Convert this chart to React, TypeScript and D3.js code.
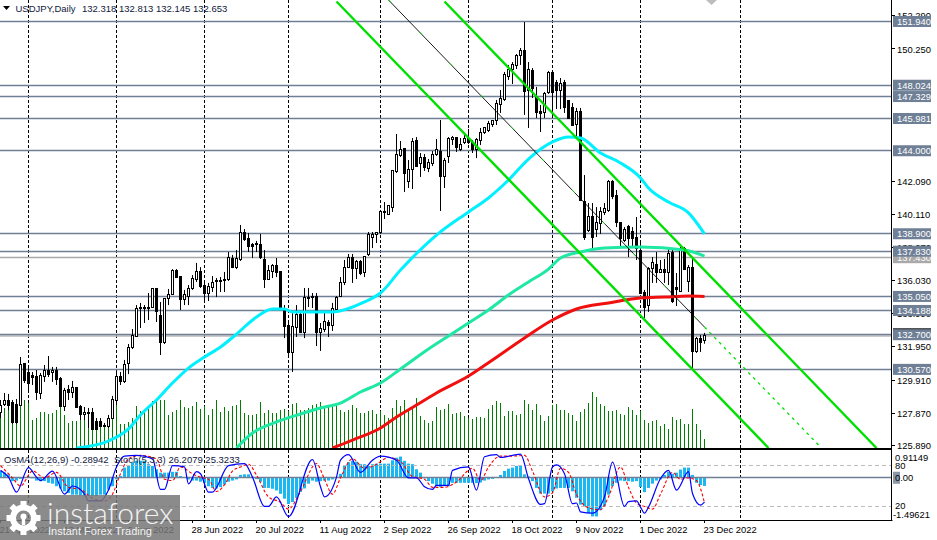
import React, { useEffect, useRef } from "react";
import * as d3 from "d3";

const width = 937;
const height = 540;

// daily USDJPY bars
const opens = [
  127.89,128.44,128.63,128.51,128.44,128.38,130.90,130.35,130.22,130.16,
  129.06,130.16,130.53,130.35,130.47,130.04,128.26,129.36,129.12,129.43,
  128.26,127.77,127.95,127.89,127.34,127.34,127.15,127.03,127.58,128.63,
  130.16,129.80,130.96,131.94,132.56,134.28,134.34,134.37,134.40,135.51,
  133.85,132.19,134.95,135.14,136.67,136.30,134.89,135.07,135.51,136.12,
  136.61,135.75,135.26,135.57,135.94,136.00,136.12,136.06,137.41,136.85,
  137.29,138.95,138.64,138.21,138.21,138.27,137.35,136.12,136.61,136.98,
  136.61,134.22,133.29,131.58,133.17,133.91,132.86,134.98,135.07,135.07,
  132.86,132.99,133.48,133.29,134.22,135.07,135.88,136.85,137.47,136.79,
  137.17,136.49,137.60,138.70,138.83,138.95,140.21,140.11,140.54,142.70,
  143.68,144.11,142.08,142.82,144.60,143.19,143.56,142.88,143.19,143.74,
  143.98,142.39,143.62,144.72,144.84,144.05,144.48,144.78,144.48,144.05,
  144.60,145.15,145.27,145.64,145.83,146.87,147.12,148.53,149.02,149.21,
  149.82,150.13,147.73,148.90,147.36,146.38,146.32,147.55,148.78,148.22,
  147.73,148.22,147.06,146.63,145.64,146.44,140.91,139.13,139.93,139.19,
  139.56,140.18,140.30,142.14,141.28,139.62,138.46,139.37,139.01,138.70,
  137.90,135.32,134.52,136.79,137.04,136.55,136.73,136.55,137.72,135.63,
  135.38,138.02,135.94,136.85,131.64,132.49,132.318,
];
const highs = [
  128.69,129.12,129.06,128.69,128.75,131.33,130.96,130.65,130.41,130.53,
  130.35,130.84,131.39,130.72,130.72,130.10,129.43,129.61,129.86,129.49,
  128.38,128.26,128.20,128.20,127.58,127.58,127.28,127.77,128.94,130.41,
  130.41,131.15,132.13,133.05,134.52,134.65,134.52,135.26,135.57,135.57,
  134.71,134.95,135.51,136.73,136.73,136.30,135.45,135.75,136.36,137.11,
  136.85,135.94,135.88,136.30,136.18,136.24,136.55,137.78,137.60,137.90,
  139.44,139.19,138.95,138.33,138.46,138.89,137.90,136.98,137.04,137.41,
  136.61,134.52,133.42,134.03,134.52,134.10,135.57,135.57,135.26,135.26,
  133.42,134.03,133.60,134.65,135.07,136.24,137.29,137.66,137.66,137.29,
  137.29,137.53,139.01,139.01,139.01,140.36,140.85,140.67,142.82,145.03,
  144.60,144.11,143.43,144.78,144.84,143.86,143.80,143.49,143.98,144.72,
  145.89,143.56,144.84,144.91,144.84,144.78,144.97,145.34,144.66,144.78,
  145.40,145.46,145.83,145.89,147.12,147.73,148.84,149.27,149.45,149.94,
  150.31,151.91,149.45,149.08,147.92,146.81,147.61,148.90,148.90,148.35,
  148.47,148.35,147.06,146.93,146.63,146.63,142.51,140.79,140.79,140.54,
  140.54,140.79,142.20,142.20,141.59,139.62,139.31,139.44,139.31,139.93,
  138.39,135.45,136.85,137.47,137.78,137.29,137.35,138.02,138.02,136.49,
  138.09,138.09,136.98,137.35,132.56,132.68,132.813,
];
const lows = [
  127.58,128.32,128.07,127.21,127.21,128.32,129.73,129.12,129.61,128.69,
  128.75,129.80,130.10,129.80,129.61,128.26,128.01,128.69,128.81,128.20,
  127.46,127.46,126.97,126.85,126.85,127.03,127.03,126.97,127.52,128.38,
  129.61,129.73,130.28,131.82,132.56,133.11,133.42,133.60,134.34,133.48,
  131.45,132.13,134.52,135.14,136.18,134.22,134.52,134.52,135.45,135.94,
  135.57,134.71,134.77,135.32,135.01,135.32,135.32,136.00,136.79,136.73,
  137.23,138.46,137.78,137.41,137.78,137.35,135.57,136.06,136.18,136.24,
  134.22,132.49,131.45,130.41,132.56,132.80,132.49,134.40,134.34,132.00,
  131.70,132.86,132.56,132.93,134.16,135.01,135.75,136.79,135.88,136.12,
  136.36,136.24,137.53,138.02,138.33,138.89,139.81,140.05,140.24,142.63,
  143.62,141.47,141.71,141.65,143.00,142.39,142.76,142.69,143.06,143.68,
  140.30,141.71,143.25,144.35,143.92,143.98,144.41,144.41,143.86,143.55,
  144.35,145.03,145.15,145.46,145.58,146.32,147.06,148.35,148.10,149.02,
  149.27,146.20,145.40,147.24,146.01,145.15,146.01,147.49,146.01,146.56,
  146.56,146.32,145.95,145.52,144.91,140.91,138.52,139.01,137.90,138.70,
  138.89,140.05,140.24,141.03,139.31,138.09,138.39,137.47,138.09,137.29,
  135.26,133.73,134.10,135.88,135.88,136.49,135.88,135.75,134.65,134.46,
  135.32,136.67,135.32,130.65,131.58,131.64,132.145,
];
const closes = [
  128.38,128.63,128.38,127.28,127.28,130.84,129.86,129.73,130.10,129.12,
  130.22,130.53,130.28,130.47,129.92,128.26,129.30,129.12,129.43,128.20,
  127.77,127.89,127.89,126.85,126.85,127.09,127.09,127.58,128.69,130.16,
  129.80,130.84,131.94,132.62,134.28,134.34,134.40,134.40,135.51,134.10,
  132.19,134.95,135.14,136.67,136.24,134.89,135.20,135.51,136.18,136.61,
  135.69,135.26,135.69,135.88,136.00,135.94,136.00,137.47,136.85,137.41,
  138.95,138.52,138.09,138.09,138.33,137.47,136.12,136.67,136.98,136.55,
  134.34,133.23,131.58,133.23,133.91,132.86,135.01,135.01,135.01,132.86,
  133.05,133.54,133.29,134.28,135.01,135.88,136.85,137.47,136.79,137.17,
  136.43,137.53,138.83,138.83,138.95,140.24,140.24,140.61,142.76,143.74,
  144.05,142.63,142.82,144.54,143.06,143.56,142.94,143.25,143.74,144.05,
  142.39,143.37,144.78,144.84,144.17,144.41,144.78,144.48,144.05,144.66,
  145.15,145.40,145.70,145.83,146.93,147.18,148.71,149.02,149.27,149.88,
  150.13,147.61,148.96,147.85,146.32,146.26,147.49,148.78,147.55,147.73,
  148.16,146.63,146.01,145.58,146.44,140.97,138.70,139.93,138.70,139.62,
  140.24,140.48,142.14,141.16,139.62,138.64,139.19,138.64,138.64,138.02,
  135.26,134.34,136.79,137.11,136.55,136.73,136.55,137.66,134.71,135.45,
  138.02,136.73,136.85,131.64,132.49,132.25,132.653,
];
const volumes = [
  36,40,42,45,46,53,48,45,28,30,
  36,36,34,35,38,43,33,25,27,27,
  37,32,28,22,25,26,23,30,35,43,
  24,24,26,30,42,37,37,42,47,47,
  48,48,33,36,38,48,41,40,42,46,
  39,42,33,39,48,36,41,37,42,43,
  48,35,33,33,34,46,35,38,35,35,
  38,39,37,44,45,38,38,40,43,44,
  46,41,41,42,43,38,36,38,43,40,
  35,35,37,38,34,37,33,30,40,48,
  42,48,38,41,50,32,28,25,27,41,
  38,39,44,34,35,36,32,30,29,31,
  31,30,39,43,47,45,32,37,37,33,
  34,48,44,38,44,33,27,32,43,44,
  38,38,35,33,27,36,39,45,56,51,
  44,42,37,37,38,34,33,41,38,33,
  37,28,25,27,28,22,24,19,31,28,
  29,24,24,39,24,18,9,
];
const osma = [
  0.24,0.18,0.12,-0.12,-0.10,-0.04,0.02,0.04,-0.02,-0.10,
  -0.12,-0.12,-0.18,-0.21,-0.30,-0.38,-0.48,-0.54,-0.60,-0.60,
  -0.62,-0.65,-0.65,-0.65,-0.65,-0.60,-0.60,-0.42,-0.30,-0.06,
  0.06,0.36,0.42,0.54,0.60,0.60,0.60,0.48,0.42,0.30,
  0.18,0.18,0.18,0.21,0.21,0.06,0.02,-0.06,-0.10,-0.10,
  -0.14,-0.18,-0.30,-0.36,-0.38,-0.33,-0.24,-0.14,-0.10,-0.06,
  0.10,0.12,0.12,0.04,-0.05,-0.14,-0.36,-0.36,-0.39,-0.45,
  -0.57,-0.74,-0.93,-0.86,-0.71,-0.50,-0.38,-0.21,-0.10,-0.14,
  -0.12,-0.10,-0.10,-0.06,0.02,0.14,0.42,0.55,0.60,0.57,
  0.48,0.48,0.42,0.48,0.50,0.50,0.50,0.50,0.62,0.71,
  0.75,0.60,0.50,0.48,0.30,0.18,-0.02,-0.12,-0.21,-0.30,
  -0.33,-0.30,-0.30,-0.18,-0.18,-0.18,-0.18,-0.18,-0.18,-0.19,
  -0.17,-0.10,-0.06,-0.04,0,0.10,0.24,0.32,0.36,0.42,
  0.42,0.12,0.04,-0.12,-0.36,-0.56,-0.56,-0.56,-0.48,-0.38,
  -0.36,-0.36,-0.36,-0.48,-0.71,-0.95,-1.01,-1.25,-1.37,-1.37,
  -1.15,-1.01,-0.60,-0.30,-0.18,-0.10,-0.12,-0.12,-0.14,-0.12,
  -0.33,-0.51,-0.36,-0.21,-0.10,-0.06,0.10,0.21,0.14,0.18,
  0.29,0.36,0.36,0.10,-0.18,-0.26,-0.28942,
];

// moving averages, bar index and price at the turning points
const cyanBars = [19,27,32,35,39,43,47,51,55,59,64,68,71,73,79,83,91,95,100,109,117,122,127,132,138,142,145,150,155,160,162,167,172,176];
const cyanPrices = [125.74,126.17,126.91,127.77,128.69,129.73,130.65,131.33,131.94,132.74,133.79,134.28,134.28,134.10,134.10,134.10,134.71,135.26,136.67,138.82,140.24,141.10,142.20,143.49,144.54,144.84,144.78,143.86,143.25,142.33,141.71,140.85,140.18,138.89];
const springBars = [59,63,69,75,80,85,90,95,100,107,112,117,122,127,132,137,140,145,151,160,171,176];
const springPrices = [125.74,126.66,127.34,127.83,128.20,128.50,129.18,129.73,130.59,131.82,132.62,133.42,134.22,135.14,135.94,136.73,137.41,137.78,138.02,138.09,137.90,137.53];
const redBars = [83,88,95,99,104,109,117,123,131,138,144,152,160,166,172,176];
const redPrices = [125.74,126.23,126.97,127.64,128.38,129.12,130.16,131.15,132.50,133.60,134.28,134.65,134.95,135.01,135.07,135.05];

// stochastic, bar index and value at the turning points
const stochBars = [0,2,4,7,9,10,13,16,18,21,22,25,27,29,31,34,38,40,41,43,46,47,49,50,52,53,57,61,63,66,67,69,72,78,80,81,84,85,87,90,93,95,99,102,104,106,108,109,112,113,117,119,121,124,125,130,132,135,136,138,139,141,143,144,145,148,151,153,156,157,159,160,161,162,165,167,169,172,173,175,176];
const stochMain = [73,63,41,77,63,58,72,38,50,38,28,28,44,78,94,95,90,45,45,80,78,53,71,68,41,41,80,83,63,20,20,34,5,89,49,34,63,88,96,70,88,94,88,62,62,49,45,51,51,73,78,44,93,96,92,97,61,23,24,78,81,68,24,25,12,10,34,85,20,27,28,19,10,19,61,73,44,71,39,22,26.2079];
const signalBars = [0,3,5,8,11,14,17,20,23,26,28,30,32,35,39,41,43,45,48,50,52,54,56,58,60,62,64,67,70,72,75,79,81,83,85,88,91,94,97,100,103,106,108,111,114,118,120,122,125,128,131,133,136,138,140,142,144,147,150,152,155,157,159,161,163,165,168,170,172,174,176];
const stochSignal = [80,62,50,72,62,70,48,45,32,28,38,68,90,95,90,60,58,78,68,63,60,42,52,72,78,82,66,34,26,16,42,83,60,38,62,90,76,82,92,86,64,60,48,48,56,76,58,78,94,94,95,72,34,40,76,70,38,18,15,34,78,48,25,20,16,38,70,60,62,58,25.3233];

// horizontal levels and the price scale
const levels = [151.94,148.024,147.329,145.981,144.0,138.9,137.83,135.05,134.188,132.7,130.57];
const levelLabels = ["151.940","148.024","147.329","145.981","144.000","138.900","137.830","135.050","134.188","132.700","130.570"];
const priceTicks = [152.29,150.25,142.09,140.11,138.07,136.03,133.99,131.95,129.91,127.87,125.89];
const bidPrice = 132.653;
const greyLevel = 137.43;

// trend channel: first and last bar with their prices
const channelLow = { bars: [84,192], prices: [153.17,125.74] };
const channelHigh = { bars: [111,219], prices: [153.17,125.74] };
const channelMid = { bars: [97,176,205], prices: [153.26,133.17,125.80] };

// month separators and date labels
const separatorBars = [7,29,51,72,95,117,138,160,185];
const dateBars = [0,16,32,48,64,80,96,112,128,144,160,176];
const dateLabels = ["21 Apr 2022","13 May 2022","6 Jun 2022","28 Jun 2022","20 Jul 2022","11 Aug 2022","2 Sep 2022","26 Sep 2022","18 Oct 2022","9 Nov 2022","1 Dec 2022","23 Dec 2022"];

const uiFont = "'Liberation Sans', Arial, sans-serif";
const levelColor = "#6f7f96";

export default function App() {
  const ref = useRef<SVGSVGElement | null>(null);

  useEffect(() => {
    const node = ref.current;
    if (!node) return;
    const svg = d3.select(node);
    svg.selectAll("*").remove();

    const axisX = 892;
    const paneBottom = 448;
    const subTop = 452;
    const subBottom = 520;

    const x = d3.scaleLinear().domain([0, 176]).range([0.5, 704.5]);
    const y = d3.scaleLinear().domain([153.26, 125.74]).range([0, paneBottom]);
    const volY = d3.scaleLinear().domain([0, 60]).range([paneBottom, paneBottom - 60]);
    const osmaY = d3.scaleLinear().domain([-1.49621, 0.91149]).range([subBottom, subTop]);
    const stochY = d3.scaleLinear().domain([0, 100]).range([subBottom, subTop]);
    const snap = (v: number) => Math.round(v - 0.5) + 0.5;

    svg.append("rect").attr("width", width).attr("height", height).attr("fill", "#fff");

    const defs = svg.append("defs");
    defs.append("clipPath").attr("id", "main-clip").append("rect").attr("width", axisX).attr("height", paneBottom);
    defs.append("clipPath").attr("id", "sub-clip").append("rect").attr("y", subTop - 1).attr("width", axisX).attr("height", subBottom - subTop + 1);

    // month separators
    svg.append("g").selectAll("line").data(separatorBars).join("line")
      .attr("x1", (d) => x(d)).attr("x2", (d) => x(d))
      .attr("y1", 0).attr("y2", subBottom)
      .attr("stroke", "#000").attr("stroke-dasharray", "3,2");

    const main = svg.append("g").attr("clip-path", "url(#main-clip)");

    // price levels
    main.append("line").attr("x1", 0).attr("x2", axisX)
      .attr("y1", snap(y(greyLevel))).attr("y2", snap(y(greyLevel)))
      .attr("stroke", "#a9a9a9").attr("stroke-width", 1.3);
    main.append("line").attr("x1", 0).attr("x2", axisX)
      .attr("y1", snap(y(bidPrice)) + 0.5).attr("y2", snap(y(bidPrice)) + 0.5)
      .attr("stroke", "#b8b8b8").attr("stroke-width", 1.3);
    main.append("g").selectAll("line").data(levels).join("line")
      .attr("x1", 0).attr("x2", axisX)
      .attr("y1", (d) => snap(y(d))).attr("y2", (d) => snap(y(d)))
      .attr("stroke", levelColor).attr("stroke-width", 1.3);

    // volume
    main.append("g").selectAll("line").data(volumes).join("line")
      .attr("x1", (_, i) => x(i)).attr("x2", (_, i) => x(i))
      .attr("y1", paneBottom).attr("y2", (d) => volY(d))
      .attr("stroke", "#008000");

    // candles
    const candles = main.append("g");
    closes.forEach((c, i) => {
      const o = opens[i];
      candles.append("line")
        .attr("x1", x(i)).attr("x2", x(i))
        .attr("y1", y(highs[i])).attr("y2", y(lows[i]))
        .attr("stroke", "#000");
      const top = snap(y(Math.max(o, c)));
      const bot = snap(y(Math.min(o, c)));
      candles.append("rect")
        .attr("x", x(i) - 1).attr("width", 2)
        .attr("y", top).attr("height", Math.max(bot - top, 1))
        .attr("fill", c >= o ? "#fff" : "#000")
        .attr("stroke", "#000");
    });

    // moving averages
    const priceLine = d3.line<[number, number]>().x((d) => x(d[0])).y((d) => y(d[1]));
    const maLine = d3.line<[number, number]>().x((d) => x(d[0])).y((d) => y(d[1])).curve(d3.curveMonotoneX);
    const zipped = (bars: number[], vals: number[]) => bars.map((b, i) => [b, vals[i]] as [number, number]);
    const maLayer = main.append("g").attr("fill", "none").attr("stroke-width", 3);
    maLayer.append("path").attr("d", maLine(zipped(cyanBars, cyanPrices))).attr("stroke", "#00f0ff");
    maLayer.append("path").attr("d", maLine(zipped(springBars, springPrices))).attr("stroke", "#1fe8a4");
    maLayer.append("path").attr("d", maLine(zipped(redBars, redPrices))).attr("stroke", "#f01010");

    // channel
    const channel = main.append("g").attr("fill", "none");
    [channelLow, channelHigh].forEach((c) => {
      channel.append("path").attr("d", priceLine(zipped(c.bars, c.prices)))
        .attr("stroke", "#00e000").attr("stroke-width", 2.4);
    });
    const midPts = zipped(channelMid.bars, channelMid.prices);
    channel.append("path").attr("d", priceLine(midPts.slice(0, 2))).attr("stroke", "#000").attr("stroke-width", 0.9);
    channel.append("path").attr("d", priceLine(midPts.slice(0, 2))).attr("stroke", "#00e000").attr("stroke-width", 0.9).attr("stroke-dasharray", "4,40");
    channel.append("path").attr("d", priceLine(midPts.slice(1))).attr("stroke", "#00e000").attr("stroke-width", 1.3).attr("stroke-dasharray", "3,4");

    // sub window
    const sub = svg.append("g").attr("clip-path", "url(#sub-clip)");
    sub.append("g").selectAll("rect").data(osma).join("rect")
      .attr("x", (_, i) => x(i) - 1.5).attr("width", 3)
      .attr("y", (d) => Math.min(osmaY(d), osmaY(0)))
      .attr("height", (d) => Math.abs(osmaY(d) - osmaY(0)))
      .attr("fill", "#19b8f2");
    sub.append("g").selectAll("line").data([80, 20]).join("line")
      .attr("x1", 0).attr("x2", axisX)
      .attr("y1", (d) => snap(stochY(d))).attr("y2", (d) => snap(stochY(d)))
      .attr("stroke", "#bdbdbd").attr("stroke-dasharray", "4,3");
    sub.append("line").attr("x1", 0).attr("x2", axisX)
      .attr("y1", snap(osmaY(0))).attr("y2", snap(osmaY(0)))
      .attr("stroke", levelColor).attr("stroke-width", 1.3);
    const stochLine = d3.line<[number, number]>().x((d) => x(d[0])).y((d) => stochY(d[1])).curve(d3.curveMonotoneX);
    sub.append("path").attr("d", stochLine(zipped(signalBars, stochSignal)))
      .attr("fill", "none").attr("stroke", "#ff0000").attr("stroke-width", 1.1).attr("stroke-dasharray", "3,2");
    sub.append("path").attr("d", stochLine(zipped(stochBars, stochMain)))
      .attr("fill", "none").attr("stroke", "#0000ff").attr("stroke-width", 1.2);

    // pane frame
    svg.append("rect").attr("x", 0).attr("y", paneBottom).attr("width", axisX).attr("height", 2).attr("fill", "#000");
    svg.append("line").attr("x1", 0).attr("x2", axisX + 0.5).attr("y1", subBottom + 0.5).attr("y2", subBottom + 0.5).attr("stroke", "#000");
    svg.append("line").attr("x1", axisX - 0.5).attr("x2", axisX - 0.5).attr("y1", 0).attr("y2", subBottom + 1).attr("stroke", "#000");

    // price axis
    const axisText = (sel: d3.Selection<any, any, any, any>) =>
      sel.attr("font-family", uiFont).attr("font-size", 9.4).attr("dominant-baseline", "central");
    const ticks = svg.append("g");
    ticks.selectAll("line").data(priceTicks).join("line")
      .attr("x1", axisX).attr("x2", axisX + 3)
      .attr("y1", (d) => snap(y(d))).attr("y2", (d) => snap(y(d)))
      .attr("stroke", "#000");
    ticks.selectAll("text").data(priceTicks).join("text")
      .attr("x", 897).attr("y", (d) => y(d)).attr("fill", "#000")
      .text((d) => d.toFixed(3)).call(axisText);

    // tags on the price axis, the grey and black ones lie under the rest
    const tag = (price: number, label: string, fill: string, color: string) => {
      const g = svg.append("g");
      g.append("rect").attr("x", 893).attr("y", y(price) - 5.5).attr("width", 38).attr("height", 11).attr("fill", fill);
      g.append("text").attr("x", 897).attr("y", y(price)).attr("fill", color).text(label).call(axisText);
    };
    tag(greyLevel, greyLevel.toFixed(3), "#a9a9a9", "#fff");
    tag(bidPrice + 0.1, bidPrice.toFixed(3), "#000", "#fff");
    levels.forEach((l, i) => tag(l, levelLabels[i], levelColor, "#fff"));

    // sub window scale
    const subScale = svg.append("g");
    subScale.append("rect").attr("x", 893).attr("y", osmaY(0) - 6).attr("width", 7).attr("height", 12).attr("fill", "#8a97a8");
    [
      { t: "0.91149", yy: 457, xx: 895 },
      { t: "80", yy: stochY(80), xx: 895 },
      { t: "0.00", yy: osmaY(0), xx: 895 },
      { t: "20", yy: stochY(20) - 0.5, xx: 895 },
      { t: "-1.49621", yy: 514, xx: 893 },
    ].forEach((d) => {
      subScale.append("text").attr("x", d.xx).attr("y", d.yy).attr("fill", "#000").text(d.t).call(axisText);
    });

    // date axis
    const dates = svg.append("g");
    dates.selectAll("line").data(dateBars).join("line")
      .attr("x1", (d) => x(d)).attr("x2", (d) => x(d))
      .attr("y1", subBottom).attr("y2", subBottom + 3)
      .attr("stroke", "#000");
    dates.selectAll("text").data(dateBars).join("text")
      .attr("x", (d) => x(d) - 1).attr("y", 529.5).attr("fill", "#000")
      .text((_, i) => dateLabels[i]).call(axisText);

    // captions
    const caption = svg.append("g").attr("font-family", uiFont).attr("font-size", 9.5)
      .attr("fill", "#10203c").attr("dominant-baseline", "central");
    caption.append("text").attr("x", 15.5).attr("y", 8).text("USDJPY,Daily");
    caption.append("text").attr("x", 82).attr("y", 8).text("132.318 132.813 132.145 132.653");
    caption.append("text").attr("x", 4).attr("y", 459).text("OsMA(12,26,9) -0.28942");
    caption.append("text").attr("x", 114).attr("y", 459).text("Stoch(5,3,3) 26.2079 25.3233");

    svg.append("path").attr("d", d3.line()([[3, 6], [10, 6], [6.5, 10]])! + "Z").attr("fill", "#000");
    svg.append("path").attr("d", d3.line()([[706, 0], [717, 0], [711.5, 5]])! + "Z").attr("fill", "#bdbdbd");

    // watermark
    const mark = svg.append("g");
    mark.append("rect").attr("x", 0).attr("y", 495).attr("width", 180).attr("height", 45).attr("fill", "#777").attr("opacity", 0.85);
    const gear = mark.append("g").attr("transform", "translate(23.5,518)").attr("fill", "#fff");
    d3.range(8).forEach((k) => {
      gear.append("rect").attr("x", -3).attr("y", -17).attr("width", 6).attr("height", 7)
        .attr("transform", `rotate(${k * 45})`);
    });
    gear.append("path").attr("d", d3.arc()({ innerRadius: 7.5, outerRadius: 13.5, startAngle: 0, endAngle: Math.PI * 2 })!);
    gear.append("circle").attr("cy", -1.5).attr("r", 3);
    gear.append("rect").attr("x", -1.7).attr("y", -1).attr("width", 3.4).attr("height", 8);
    mark.append("text").attr("x", 47).attr("y", 524).attr("font-family", "Lato, sans-serif").attr("font-weight", 300)
      .attr("font-size", 30).attr("fill", "#fff").attr("opacity", 0.9).text("instaforex");
    mark.append("text").attr("x", 48).attr("y", 535).attr("font-family", uiFont)
      .attr("font-size", 11).attr("fill", "#fff").attr("opacity", 0.9).text("Instant Forex Trading");
  }, []);

  return (
    <svg
      ref={ref}
      width={width}
      height={height}
      style={{ position: "absolute", left: 0, top: 0, display: "block" }}
    />
  );
}
